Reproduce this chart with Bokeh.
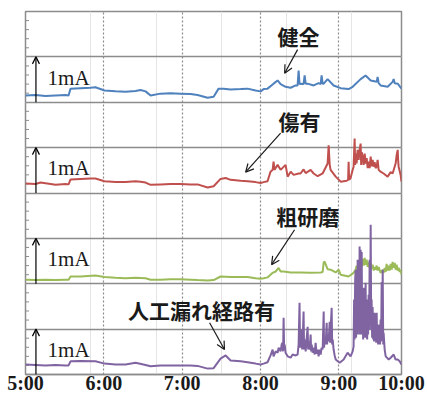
from bokeh.plotting import figure
from bokeh.models import Range1d, Label, Arrow, OpenHead, FixedTicker, SingleIntervalTicker, Grid, LinearAxis
from bokeh.embed import file_html
from bokeh.resources import INLINE

# time in minutes after 5:00, current in mA (relative to each panel's baseline)
tick_minutes = [0, 60, 120, 180, 240, 288]
tick_labels = ["5:00", "6:00", "7:00", "8:00", "9:00", "10:00"]

names = ["健全", "傷有", "粗研磨", "人工漏れ経路有"]
offsets = [6, 4, 2, 0]
colors = ["#4F81BD", "#C0504D", "#9BBB59", "#8064A2"]

kenzen = [(0,0.15),(7.7,0.16),(15.3,0.14),(23.0,0.15),(30.7,0.16),(33.0,0.15),(34.5,0.30),(42.1,0.31),(49.8,0.32),(53.6,0.33),(60.5,0.26),(69.0,0.24),(76.6,0.23),(84.3,0.25),(88.1,0.27),(92.0,0.24),(95.8,0.15),(103.4,0.19),(111.1,0.20),(118.8,0.19),(126.4,0.18),(131.8,0.16),(139.5,0.10),(144.1,0.12),(147.9,0.30),(151.7,0.30),(157.1,0.28),(164.8,0.29),(170.1,0.30),(176.2,0.26),(180.1,0.24),(182.4,0.29),(185.4,0.30),(190.0,0.41),(193.1,0.48),(195.4,0.40),(199.2,0.34),(203.1,0.32),(206.9,0.37),(208.4,0.37),(209.2,0.70),(209.9,0.40),(210.7,0.41),(213.0,0.40),(213.8,0.59),(214.6,0.41),(216.1,0.41),(220.7,0.37),(224.5,0.42),(226.1,0.40),(226.8,0.59),(227.6,0.41),(228.4,0.41),(231.4,0.51),(236.0,0.37),(241.4,0.31),(247.5,0.29),(250.6,0.34),(256.7,0.51),(260.5,0.59),(264.4,0.48),(269.0,0.45),(269.7,0.56),(270.5,0.42),(272.0,0.37),(277.4,0.34),(281.2,0.45),(282.0,0.51),(282.8,0.42),(285.1,0.41),(288.0,0.30)]

kizu = [(0,0.21),(7.7,0.20),(11.5,0.23),(19.2,0.20),(23.0,0.18),(30.7,0.20),(33.0,0.19),(34.5,0.30),(42.1,0.31),(49.8,0.32),(53.6,0.32),(60.5,0.26),(69.0,0.24),(76.6,0.24),(84.3,0.26),(88.1,0.25),(92.0,0.23),(95.8,0.18),(103.4,0.19),(111.1,0.20),(118.8,0.20),(126.4,0.19),(131.8,0.19),(139.5,0.12),(144.1,0.15),(149.4,0.31),(153.3,0.33),(157.1,0.29),(164.8,0.27),(170.1,0.26),(176.2,0.24),(180.1,0.22),(182.4,0.24),(185.4,0.26),(187.7,0.47),(189.3,0.51),(190.0,0.69),(190.8,0.51),(193.1,0.62),(195.4,0.51),(199.2,0.62),(200.8,0.36),(203.1,0.47),(205.4,0.40),(209.2,0.43),(210.7,0.43),(213.0,0.52),(214.6,0.44),(218.4,0.51),(220.7,0.43),(223.8,0.37),(227.6,0.43),(231.4,0.65),(232.2,1.05),(233.0,0.62),(233.7,0.51),(237.6,0.36),(241.4,0.25),(246.0,0.27),(247.1,0.29),(247.5,0.69),(247.9,0.29),(249.0,0.33),(250.6,0.51),(251.3,0.58),(252.1,1.20),(252.5,0.62),(252.9,0.87),(253.6,0.65),(254.4,0.95),(255.2,0.73),(255.9,0.95),(256.7,1.09),(257.1,0.62),(257.5,0.90),(258.3,0.80),(259.0,0.62),(259.8,0.87),(260.5,0.65),(261.3,0.77),(262.1,0.55),(262.8,0.69),(263.6,0.55),(264.4,0.80),(265.1,0.59),(265.9,0.73),(266.7,0.58),(267.4,0.68),(268.2,0.55),(269.0,0.58),(269.7,0.73),(270.5,0.51),(272.0,0.47),(274.3,0.43),(277.4,0.36),(279.7,0.46),(281.2,0.43),(283.5,0.65),(284.3,0.84),(285.1,0.95),(285.4,0.73),(285.8,0.58),(287.3,0.40),(288.0,0.25)]

soken = [(0,0.09),(7.7,0.08),(15.3,0.09),(23.0,0.08),(30.7,0.09),(33.0,0.09),(34.5,0.16),(42.1,0.16),(53.6,0.18),(60.5,0.15),(69.0,0.13),(76.6,0.12),(84.3,0.13),(92.0,0.12),(95.8,0.09),(103.4,0.09),(111.1,0.10),(118.8,0.10),(126.4,0.09),(131.8,0.08),(139.5,0.07),(144.1,0.08),(149.4,0.16),(157.1,0.15),(164.8,0.15),(170.1,0.15),(176.2,0.12),(180.1,0.11),(182.4,0.12),(185.4,0.14),(189.3,0.24),(191.6,0.27),(193.9,0.35),(195.4,0.27),(197.7,0.27),(203.1,0.25),(210.7,0.25),(218.4,0.24),(226.1,0.25),(227.6,0.26),(228.4,0.47),(229.1,0.49),(231.4,0.32),(233.7,0.31),(237.6,0.25),(239.8,0.31),(241.4,0.20),(247.5,0.16),(251.3,0.24),(252.9,0.31),(253.6,0.40),(254.4,0.31),(255.2,0.48),(255.9,0.35),(256.7,0.48),(257.5,0.37),(258.3,0.55),(259.0,0.40),(259.8,0.57),(260.5,0.42),(261.3,0.53),(262.1,0.37),(262.8,0.48),(263.6,0.35),(264.4,0.46),(265.1,0.33),(265.9,0.42),(266.7,0.29),(267.4,0.37),(268.2,0.31),(269.0,0.40),(269.7,0.29),(270.5,0.37),(272.0,0.24),(273.6,0.31),(274.3,0.24),(275.1,0.35),(275.9,0.26),(276.6,0.44),(277.4,0.29),(278.2,0.40),(278.9,0.29),(279.7,0.44),(280.5,0.31),(281.2,0.48),(282.0,0.35),(282.8,0.46),(283.5,0.31),(284.3,0.42),(285.1,0.29),(285.8,0.35),(286.6,0.26),(287.4,0.31),(288.0,0.20)]

jinko = [(0,0.22),(7.7,0.21),(15.3,0.20),(23.0,0.21),(30.7,0.20),(33.0,0.20),(34.5,0.29),(42.1,0.30),(53.6,0.29),(60.5,0.24),(69.0,0.22),(76.6,0.22),(84.3,0.26),(92.0,0.21),(95.8,0.18),(103.4,0.20),(111.1,0.20),(118.8,0.20),(126.4,0.20),(131.8,0.19),(139.5,0.13),(144.1,0.14),(149.4,0.35),(153.3,0.42),(157.1,0.31),(164.8,0.29),(170.1,0.27),(176.2,0.24),(180.1,0.22),(182.4,0.24),(185.4,0.27),
         (187.7,0.42),(189.3,0.55),(190.0,0.40),(191.6,0.51),(193.1,0.48),(193.9,0.59),(195.4,0.51),(196.2,0.66),(196.9,0.70),(197.3,0.51),(197.7,1.25),(198.1,0.55),(198.5,0.66),(199.2,0.48),(200.8,0.40),(203.1,0.37),(204.6,0.44),(206.9,0.42),(208.4,0.44),
         (209.2,0.66),(209.9,1.58),(210.3,0.59),(210.7,0.77),(211.5,0.99),(211.9,0.55),(212.2,0.66),(213.0,1.39),(213.4,0.55),(213.8,0.77),(214.6,0.51),(215.3,0.77),(216.1,1.05),(216.5,0.55),(216.9,0.73),(217.6,0.55),(218.4,0.88),(218.8,0.51),(219.2,0.66),(219.9,0.48),(220.7,0.59),(221.5,0.44),(222.2,0.70),(223.0,0.46),(223.8,0.55),(224.5,0.40),(225.3,0.55),(226.1,0.44),(226.8,0.59),(227.6,0.55),(228.4,1.39),(228.7,0.59),(229.1,0.81),(229.9,0.66),(230.7,1.14),(231.0,0.66),(231.4,0.88),(232.2,0.73),(233.0,1.16),(233.3,0.70),(233.7,0.99),(234.5,1.47),(234.9,0.66),(235.3,0.77),(236.0,0.55),(236.8,0.42),(237.6,0.33),
         (240.6,0.26),(243.7,0.33),(246.7,0.48),(249.0,0.40),(250.6,0.51),
         (251.3,0.62),(251.7,1.65),(252.1,0.77),(252.5,2.09),(252.9,2.31),(253.2,0.81),(253.6,1.87),(254.0,0.88),(254.4,2.53),(254.8,0.99),(255.2,2.09),(255.6,0.88),(255.9,2.82),(256.3,1.21),(256.7,2.75),(257.1,0.88),(257.5,2.70),(257.9,0.99),(258.3,1.76),(258.6,0.77),(259.0,1.91),(259.4,0.88),(259.8,1.65),(260.2,0.81),(260.5,2.02),(260.9,0.99),(261.3,1.65),(261.7,0.77),(262.1,1.49),(262.4,0.88),(262.8,1.76),(263.2,0.99),(263.6,2.53),(264.0,1.10),(264.4,3.30),(264.8,0.99),(265.1,1.65),(265.5,0.81),(265.9,1.49),(266.3,0.77),(266.7,1.32),(267.0,0.73),(267.4,1.36),(267.8,0.77),(268.2,1.25),(268.6,0.70),(269.0,1.36),(269.3,0.73),(269.7,1.10),(270.1,0.66),(270.5,1.05),(270.9,0.66),(271.3,1.10),(271.6,0.66),(272.0,1.21),(272.4,0.73),(272.8,2.04),(273.2,0.77),(273.6,2.31),(274.0,0.66),(274.3,0.92),(275.1,0.55),(275.9,0.40),
         (278.2,0.33),(279.7,0.37),(282.0,0.44),(283.5,0.33),(285.1,0.33),(286.6,0.29),(288.0,0.22)]

series = [kenzen, kizu, soken, jinko]

# label positions (minutes, mA on the stacked scale) and arrows (start -> end)
label_pos = [(209.2, 7.47), (209.9, 5.58), (216.1, 3.49), (134.8, 1.43)]
arrow_pos = [(208.4, 7.16, 198.5, 6.64), (195.4, 5.32, 168.6, 4.46),
             (206.1, 3.19, 188.5, 2.42), (141.0, 1.14, 152.4, 0.55)]

GRAY = "#8c8c8c"

p = figure(width=427, height=396, output_backend="svg", toolbar_location=None,
           x_range=Range1d(0, 288), y_range=Range1d(0, 8),
           x_axis_location=None, y_axis_location=None,
           min_border_left=25, min_border_right=26, min_border_top=11, min_border_bottom=21)
p.background_fill_color = "white"
p.outline_line_color = GRAY
p.outline_line_width = 1.5

xaxis = LinearAxis(ticker=FixedTicker(ticks=tick_minutes),
                   major_label_overrides=dict(zip(tick_minutes, tick_labels)),
                   major_label_text_font="Liberation Serif", major_label_text_font_style="bold",
                   major_label_text_font_size="20px", major_label_text_color="#1a1a1a",
                   major_label_standoff=-3, major_tick_out=0, major_tick_in=0,
                   minor_tick_out=0, minor_tick_in=0, axis_line_color=GRAY, axis_line_width=1.5)
p.add_layout(xaxis, "below")

p.add_layout(Grid(dimension=1, ticker=SingleIntervalTicker(interval=1),
                  grid_line_color=GRAY, grid_line_width=1.5))
p.add_layout(Grid(dimension=0, ticker=FixedTicker(ticks=tick_minutes[1:5]),
                  grid_line_color="#8c8c8c", grid_line_dash="2 2", grid_line_width=1.2))

# small inner tick marks on the left edge every 0.2 mA (only the inner half is visible)
minor_ticks = [k / 5 for k in range(1, 40) if k % 5]
p.scatter([0] * len(minor_ticks), minor_ticks, marker="dash", size=7, line_color=GRAY, line_width=1)

for data, off, col in zip(series, offsets, colors):
    xs = [d[0] for d in data]
    ys = [d[1] + off for d in data]
    p.line(xs, ys, line_color=col, line_width=2)

for off in offsets:
    p.add_layout(Arrow(end=OpenHead(size=7, line_width=1.2, line_color="black"),
                       x_start=8.0, y_start=off, x_end=8.0, y_end=off + 1,
                       line_color="black", line_width=1.2))
    p.add_layout(Label(x=16.9, y=off + 0.54, text="1mA", text_font="Liberation Serif",
                       text_font_size="21px", text_color="#1a1a1a",
                       text_align="left", text_baseline="alphabetic"))

for name, (lx, ly), (x0, y0, x1, y1) in zip(names, label_pos, arrow_pos):
    p.add_layout(Label(x=lx, y=ly, text=name, text_font="Noto Sans CJK JP",
                       text_font_style="bold", text_font_size="21px", text_color="#1a1a1a",
                       text_align="center", text_baseline="middle"))
    p.add_layout(Arrow(end=OpenHead(size=8, line_width=1.2, line_color="#1a1a1a"),
                       x_start=x0, y_start=y0, x_end=x1, y_end=y1,
                       line_color="#1a1a1a", line_width=1.2))

open("out.html", "w").write(file_html(p, INLINE))
